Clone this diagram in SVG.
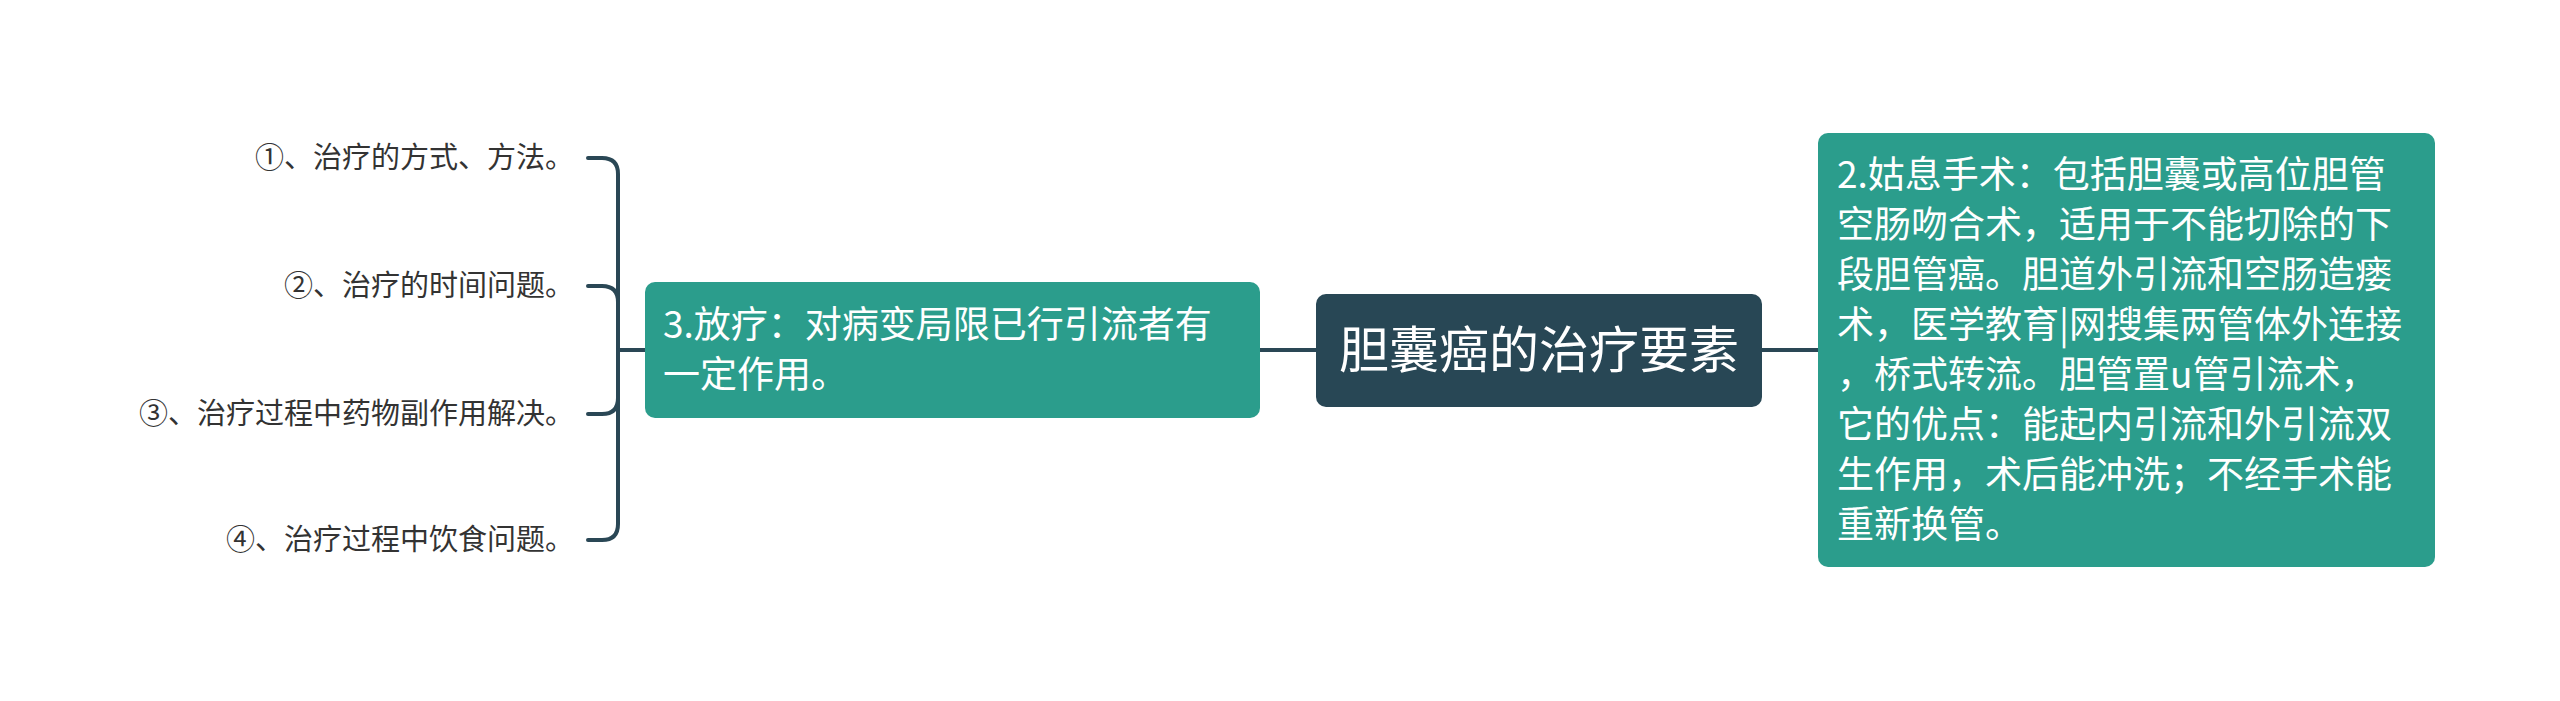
<svg xmlns="http://www.w3.org/2000/svg" width="2560" height="701" viewBox="0 0 2560 701">
<style>
.bg{fill:#ffffff}
.conn{fill:none;stroke:#2a4755;stroke-width:4;stroke-linecap:round}
.root{fill:#284755}
.teal{fill:#2b9d8c}
.t-root{font-family:"Noto Sans CJK SC","Noto Sans",sans-serif;font-size:50px;fill:#ffffff}
.t-node{font-family:"Noto Sans CJK SC","Noto Sans",sans-serif;font-size:37px;fill:#ffffff}
.t-leaf{font-family:"Noto Sans CJK SC","Noto Sans",sans-serif;font-size:29px;fill:#333333;text-anchor:end}
</style>
<rect class="bg" x="0" y="0" width="2560" height="701"/>
<g id="connectors">
<path class="conn" d="M1762,350 H1818"/>
<path class="conn" d="M1260,350 H1316"/>
<path class="conn" d="M645,350 H618"/>
<path class="conn" d="M618,350 V174 Q618,158 602,158 H588"/>
<path class="conn" d="M618,350 V302 Q618,286 602,286 H588"/>
<path class="conn" d="M618,350 V398 Q618,414 602,414 H588"/>
<path class="conn" d="M618,350 V524 Q618,540 602,540 H588"/>
</g>
<g id="root">
<rect class="root" x="1316" y="294" width="446" height="113" rx="10"/>
<text class="t-root" x="1539" y="368" text-anchor="middle">胆囊癌的治疗要素</text>
</g>
<g id="node-2">
<rect class="teal" x="1818" y="133" width="617" height="434" rx="10"/>
<text class="t-node" x="1837" y="188">2.姑息手术：包括胆囊或高位胆管</text>
<text class="t-node" x="1837" y="238">空肠吻合术，适用于不能切除的下</text>
<text class="t-node" x="1837" y="288">段胆管癌。胆道外引流和空肠造瘘</text>
<text class="t-node" x="1837" y="338">术，医学教育|网搜集两管体外连接</text>
<text class="t-node" x="1837" y="388">，桥式转流。胆管置u管引流术，</text>
<text class="t-node" x="1837" y="438">它的优点：能起内引流和外引流双</text>
<text class="t-node" x="1837" y="488">生作用，术后能冲洗；不经手术能</text>
<text class="t-node" x="1837" y="538">重新换管。</text>
</g>
<g id="node-3">
<rect class="teal" x="645" y="282" width="615" height="136" rx="10"/>
<text class="t-node" x="663" y="338">3.放疗：对病变局限已行引流者有</text>
<text class="t-node" x="663" y="388">一定作用。</text>
</g>
<g id="leaf-1">
<text class="t-leaf" x="574" y="168">①、治疗的方式、方法。</text>
</g>
<g id="leaf-2">
<text class="t-leaf" x="574" y="296">②、治疗的时间问题。</text>
</g>
<g id="leaf-3">
<text class="t-leaf" x="574" y="424">③、治疗过程中药物副作用解决。</text>
</g>
<g id="leaf-4">
<text class="t-leaf" x="574" y="550">④、治疗过程中饮食问题。</text>
</g>
</svg>
